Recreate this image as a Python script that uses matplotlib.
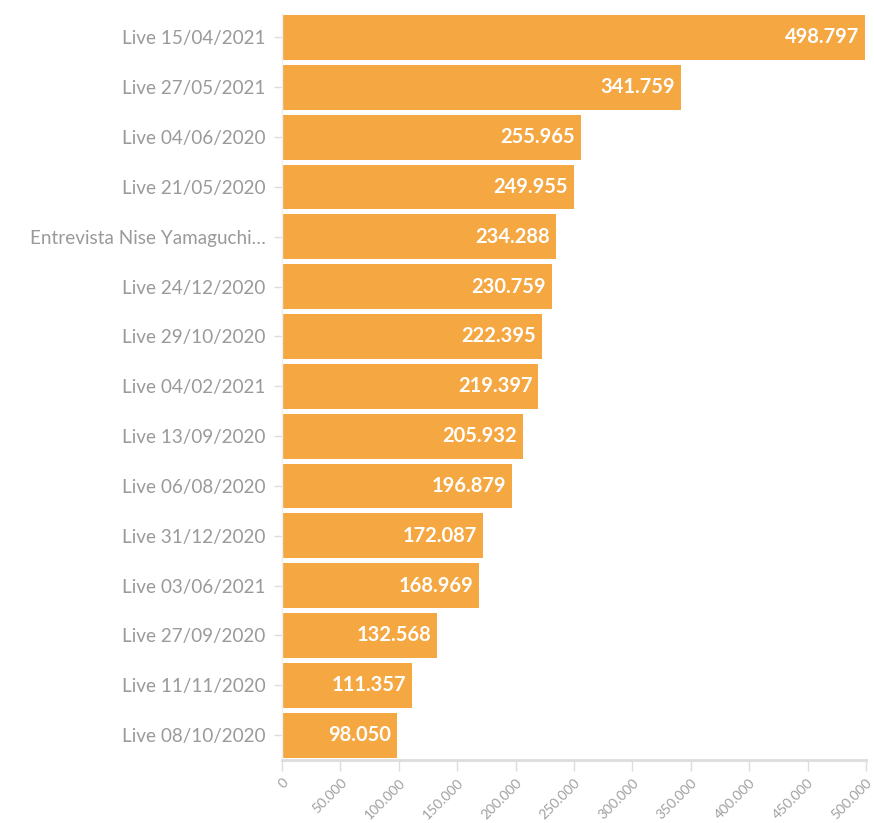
import matplotlib
matplotlib.use('Agg')
import matplotlib.pyplot as plt
from matplotlib.ticker import FuncFormatter

labels = [
    'Live 15/04/2021', 'Live 27/05/2021', 'Live 04/06/2020', 'Live 21/05/2020',
    'Entrevista Nise Yamaguchi…', 'Live 24/12/2020', 'Live 29/10/2020',
    'Live 04/02/2021', 'Live 13/09/2020', 'Live 06/08/2020', 'Live 31/12/2020',
    'Live 03/06/2021', 'Live 27/09/2020', 'Live 11/11/2020', 'Live 08/10/2020',
]
views = [498797, 341759, 255965, 249955, 234288, 230759, 222395,
         219397, 205932, 196879, 172087, 168969, 132568, 111357, 98050]
xticks = [0, 50000, 100000, 150000, 200000, 250000, 300000,
          350000, 400000, 450000, 500000]

def br(n):
    return f'{n:,}'.replace(',', '.')

plt.rcParams['font.family'] = ['Lato', 'DejaVu Sans']

fig = plt.figure(figsize=(8.74, 8.23), dpi=100)
ax = fig.add_axes([0.3227, 0.0765, 0.9908 - 0.3227, 0.9848 - 0.0765])

pos = list(range(len(labels)))
ax.barh(pos, views, height=0.9, color='#F5A742', zorder=2)
ax.set_ylim(len(labels) - 0.5, -0.5)
ax.set_xlim(0, 500000)

# value labels inside the bar ends
for y, v in zip(pos, views):
    ax.text(v - 5000, y, br(v), ha='right', va='center', color='white',
            fontsize=14.5, fontweight='bold', zorder=3)

ax.set_yticks(pos)
ax.set_yticklabels(labels, fontsize=13.6, color='#9a9a9a')
ax.set_xticks(xticks)
ax.xaxis.set_major_formatter(FuncFormatter(lambda v, p: br(int(v))))
for t in ax.get_xticklabels():
    t.set_rotation(45)
    t.set_ha('right')
    t.set_rotation_mode('anchor')
    t.set_fontsize(10)
    t.set_color('#a0a0a0')

ax.tick_params(axis='y', length=6, width=1, color='#dddddd', pad=6)
ax.tick_params(axis='x', length=8, width=1, color='#dddddd', pad=4)

for s in ['top', 'right']:
    ax.spines[s].set_visible(False)
ax.spines['bottom'].set_color('#dddddd')
ax.spines['bottom'].set_linewidth(2)
ax.spines['left'].set_color('#eeeeee')
ax.spines['left'].set_linewidth(1)

fig.savefig('out.png', dpi=100)
